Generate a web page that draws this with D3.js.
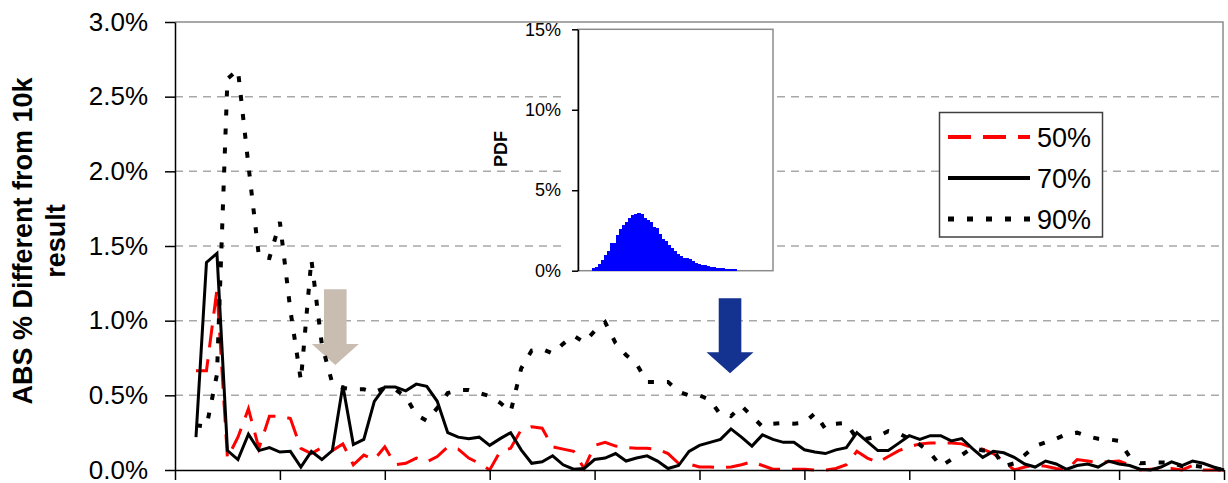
<!DOCTYPE html>
<html>
<head>
<meta charset="utf-8">
<script src="https://cdnjs.cloudflare.com/ajax/libs/d3/7.8.5/d3.min.js"></script>
<style>
    body { margin: 0; background: #fff; }
    svg text { font-family: "Liberation Sans", Arial, Helvetica, sans-serif; fill: #000; }
</style>
</head>
<body>
<svg id="chart" width="1228" height="483"></svg>
<script>

// number of simulations, 200 .. 10000 step 100
var sampleSizes = d3.range(200, 10001, 100);

// ABS % different from 10k result, one value per sample size
var p50 = [0.665, 0.665, 1.21, 0.08, 0.22, 0.41, 0.145, 0.36, 0.36, 0.345,
    0.145, 0.11, 0.15, 0.13, 0.175, 0.035, 0.1, 0.07, 0.155, 0.035,
    0.045, 0.08, 0.055, 0.09, 0.155, 0.14, 0.08, 0.045, 0, 0.125,
    0.145, 0.27, 0.29, 0.28, 0.155, 0.14, 0.125, 0.01, 0.165, 0.185,
    0.16, 0.15, 0.145, 0.145, 0.14, 0.11, 0.045, 0.04, 0.02, 0.02,
    0.015, 0.02, 0.035, 0.055, 0.03, 0.005, 0.005, 0.005, 0.005, 0,
    0, 0.01, 0.035, 0.125, 0.08, 0.05, 0.09, 0.13, 0.155, 0.175,
    0.18, 0.18, 0.18, 0.175, 0.15, 0.14, 0.11, 0.06, 0, 0.02,
    0.035, 0.025, 0.01, 0, 0.07, 0.06, 0.05, 0.055, 0.06, 0.035,
    0, 0.005, 0.01, 0.01, 0, 0.03, 0, 0, 0];

var p70 = [0.22, 1.39, 1.45, 0.13, 0.07, 0.24, 0.13, 0.15, 0.12, 0.125,
    0.02, 0.125, 0.07, 0.13, 0.565, 0.17, 0.205, 0.46, 0.555, 0.555,
    0.53, 0.575, 0.56, 0.46, 0.25, 0.22, 0.21, 0.22, 0.165, 0.21,
    0.25, 0.135, 0.045, 0.055, 0.095, 0.035, 0.005, 0.01, 0.07, 0.08,
    0.11, 0.06, 0.08, 0.095, 0.06, 0.01, 0.03, 0.125, 0.165, 0.185,
    0.205, 0.275, 0.22, 0.16, 0.235, 0.205, 0.185, 0.185, 0.135, 0.12,
    0.11, 0.135, 0.15, 0.25, 0.19, 0.13, 0.13, 0.18, 0.23, 0.205,
    0.23, 0.23, 0.195, 0.21, 0.145, 0.085, 0.125, 0.115, 0.085, 0.04,
    0.02, 0.06, 0.04, 0.005, 0.03, 0.04, 0.02, 0.06, 0.04, 0.03,
    0.005, 0, 0.02, 0.055, 0.03, 0.06, 0.045, 0.02, 0];

var p90 = [0.30, 0.29, 0.64, 2.62, 2.68, 2.04, 1.43, 1.42, 1.66, 1.07,
    0.60, 1.41, 0.84, 0.58, 0.55, 0.54, 0.54, 0.52, 0.55, 0.54,
    0.49, 0.37, 0.33, 0.415, 0.515, 0.535, 0.535, 0.515, 0.495, 0.45,
    0.39, 0.68, 0.80, 0.81, 0.78, 0.845, 0.90, 0.855, 0.93, 0.99,
    0.85, 0.77, 0.71, 0.59, 0.59, 0.59, 0.525, 0.50, 0.50, 0.47,
    0.37, 0.36, 0.43, 0.36, 0.29, 0.31, 0.315, 0.31, 0.316, 0.38,
    0.275, 0.31, 0.315, 0.21, 0.21, 0.225, 0.26, 0.245, 0.21, 0.17,
    0.115, 0.025, 0.07, 0.10, 0.15, 0.13, 0.135, 0.025, 0.045, 0.10,
    0.16, 0.185, 0.21, 0.24, 0.25, 0.225, 0.21, 0.205, 0.195, 0.09,
    0.045, 0.05, 0.05, 0.05, 0.025, 0.03, 0.02, 0.01, 0];

var seriesNames = ["50%", "70%", "90%"];
var yTicks = [0, 0.5, 1.0, 1.5, 2.0, 2.5, 3.0];
var xTicks = [0, 1000, 2000, 3000, 4000, 5000, 6000, 7000, 8000, 9000, 10000];

// inset pdf histogram (percent per bin)
var pdfFirstBin = 4.5;
var pdfValues = [0.15, 0.25, 0.40, 0.65, 0.95, 1.25, 1.72, 1.75, 2.2, 2.6,
    2.85, 3.05, 3.3, 3.47, 3.52, 3.58, 3.5, 3.3, 3.15, 3.0,
    2.72, 2.66, 2.3, 1.98, 1.82, 1.6, 1.38, 1.2, 1.05, 0.9,
    0.82, 0.77, 0.7, 0.62, 0.5, 0.42, 0.37, 0.33, 0.28, 0.24,
    0.2, 0.15, 0.15, 0.15, 0.12, 0.12, 0.12, 0.12];
var pdfTicks = [0, 5, 10, 15];

// arrows (x in sample size, y in %)
var arrows = [
    {x: 1528, top: 1.21, head: 0.844, tip: 0.703, color: "#c9bcb1"},
    {x: 5291, top: 1.15, head: 0.788, tip: 0.648, color: "#14328f"}
];

var styles = [
    {color: "#ff0000", dash: "22,12", width: 3},
    {color: "#000000", dash: null, width: 3},
    {color: "#000000", dash: "6,13", width: 4}
];

var svg = d3.select("#chart");

var x = d3.scaleLinear().domain([0, 10000]).range([175, 1224]);
var y = d3.scaleLinear().domain([0, 3]).range([470, 22]);

//grid
svg.append("g").attr("class", "grid")
    .selectAll("line")
    .data(yTicks.slice(1, -1))
    .enter()
    .append("line")
    .attr("x1", x(0))
    .attr("x2", x(10000) - 1)
    .attr("y1", function (d) { return y(d); })
    .attr("y2", function (d) { return y(d); })
    .attr("stroke", "#a8a8a8")
    .attr("stroke-width", 1.5)
    .attr("stroke-dasharray", "8,6");

// top and right border
svg.append("path")
    .attr("d", "M" + x(0) + "," + y(3) + "H" + (x(10000) - 1) + "V" + y(0))
    .attr("fill", "none")
    .attr("stroke", "#8c8c8c")
    .attr("stroke-width", 1.5);

// inset background hides the grid behind it
svg.append("rect")
    .attr("x", 562)
    .attr("y", 24)
    .attr("width", 213)
    .attr("height", 249)
    .attr("fill", "#fff");

// arrows
arrows.forEach(function (a) {
    var cx = x(a.x), sw = 11.3, hw = 23.5;
    svg.append("path")
        .attr("d", "M" + (cx - sw) + "," + y(a.top) +
            "H" + (cx + sw) + "V" + y(a.head) +
            "H" + (cx + hw) + "L" + cx + "," + y(a.tip) +
            "L" + (cx - hw) + "," + y(a.head) +
            "H" + (cx - sw) + "Z")
        .attr("fill", a.color);
});

// series lines
var line = d3.line()
    .x(function (d, i) { return x(sampleSizes[i]); })
    .y(function (d) { return y(d); });

[p50, p70, p90].forEach(function (s, k) {
    svg.append("path")
        .datum(s)
        .attr("d", line)
        .attr("fill", "none")
        .attr("stroke", styles[k].color)
        .attr("stroke-width", styles[k].width)
        .attr("stroke-dasharray", styles[k].dash)
        .attr("stroke-linejoin", "miter");
});

// axes
var yAxis = svg.append("g")
    .attr("transform", "translate(" + x(0) + ",0)")
    .call(d3.axisLeft(y).tickValues(yTicks).tickSize(10).tickSizeOuter(0).tickPadding(17)
        .tickFormat(function (d) { return d.toFixed(1) + "%"; }));
yAxis.selectAll("text").style("font-size", "26px");

var xAxis = svg.append("g")
    .attr("transform", "translate(0," + y(0) + ")")
    .call(d3.axisBottom(x).tickValues(xTicks).tickSize(10).tickSizeOuter(0).tickFormat(""));

svg.selectAll(".domain, .tick line")
    .attr("stroke", "#000")
    .attr("stroke-width", 1.5);

// y title
var title = svg.append("text")
    .attr("transform", "translate(0,241) rotate(-90)")
    .attr("text-anchor", "middle")
    .style("font-size", "27px")
    .style("font-weight", "bold");
title.append("tspan").attr("x", 0).attr("y", 32).text("ABS % Different from 10k");
title.append("tspan").attr("x", 0).attr("y", 65).text("result");

// inset
var ix = d3.scaleLinear().domain([0, 65]).range([578, 773]);
var iy = d3.scaleLinear().domain([0, 15]).range([270.7, 29.3]);

svg.append("rect")
    .attr("x", ix(0))
    .attr("y", iy(15))
    .attr("width", ix(65) - ix(0))
    .attr("height", iy(0) - iy(15))
    .attr("fill", "#fff")
    .attr("stroke", "#8c8c8c")
    .attr("stroke-width", 1.5);

svg.append("g")
    .attr("shape-rendering", "crispEdges")
    .selectAll("rect")
    .data(pdfValues)
    .enter()
    .append("rect")
    .attr("x", function (d, i) { return ix(pdfFirstBin + i); })
    .attr("width", function (d, i) { return ix(pdfFirstBin + i + 1) - ix(pdfFirstBin + i) + 1; })
    .attr("y", function (d) { return iy(d); })
    .attr("height", function (d) { return iy(0) - iy(d); })
    .attr("fill", "#0000ff");

var iAxis = svg.append("g")
    .attr("transform", "translate(" + ix(0) + ",0)")
    .call(d3.axisLeft(iy).tickValues(pdfTicks).tickSize(6).tickSizeOuter(0).tickPadding(11)
        .tickFormat(function (d) { return d + "%"; }));
iAxis.selectAll("text").style("font-size", "18px");
iAxis.selectAll(".domain, .tick line").attr("stroke", "#000").attr("stroke-width", 1.5);

svg.append("text")
    .attr("transform", "translate(507,149) rotate(-90)")
    .attr("text-anchor", "middle")
    .style("font-size", "18px")
    .style("font-weight", "bold")
    .text("PDF");

// legend
var legend = svg.append("g").attr("class", "legend");
legend.append("rect")
    .attr("x", 939.5)
    .attr("y", 112.5)
    .attr("width", 163)
    .attr("height", 124.5)
    .attr("fill", "#fff")
    .attr("stroke", "#404040")
    .attr("stroke-width", 1.5);

seriesNames.forEach(function (name, k) {
    var ly = 137 + k * 41;
    legend.append("line")
        .attr("x1", 948)
        .attr("x2", 1030)
        .attr("y1", ly)
        .attr("y2", ly)
        .attr("stroke", styles[k].color)
        .attr("stroke-width", styles[k].width + 0.8)
        .attr("stroke-dasharray", k == 0 ? "23,12" : styles[k].dash);
    legend.append("text")
        .attr("x", 1037)
        .attr("y", ly)
        .attr("dy", "0.36em")
        .style("font-size", "27px")
        .text(name);
});

</script>
</body>
</html>
